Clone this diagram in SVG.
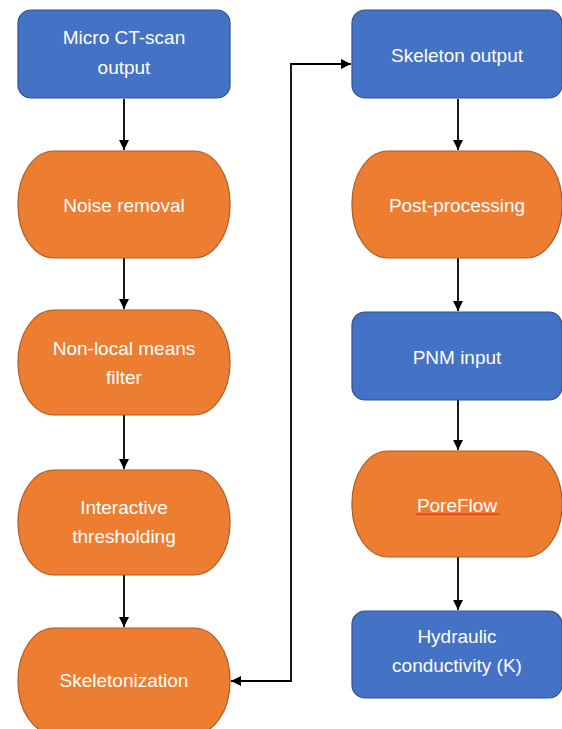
<svg xmlns="http://www.w3.org/2000/svg" width="562" height="729" viewBox="0 0 562 729">
<style>
.blue{fill:#4472C4;stroke:#2F528F;stroke-width:1.2}
.orange{fill:#ED7D31;stroke:#AE5A21;stroke-width:1.2}
text{font-family:"Liberation Sans",Arial,sans-serif;font-size:19px;fill:#FFFFFF;text-anchor:middle;dominant-baseline:central}
.conn{fill:none;stroke:#000000;stroke-width:1.8}
</style>
<defs>
<marker id="ah" viewBox="0 0 10 10" refX="10" refY="5" markerWidth="10" markerHeight="10" markerUnits="userSpaceOnUse" orient="auto-start-reverse">
<path d="M0,0 L10,5 L0,10 Z" fill="#000000"/>
</marker>
</defs>
<rect width="562" height="729" fill="#FFFFFF"/>
<g id="connectors">
<line class="conn" x1="124" y1="99" x2="124" y2="150" marker-end="url(#ah)"/>
<line class="conn" x1="124" y1="258" x2="124" y2="309" marker-end="url(#ah)"/>
<line class="conn" x1="124" y1="415" x2="124" y2="469" marker-end="url(#ah)"/>
<line class="conn" x1="124" y1="575" x2="124" y2="627" marker-end="url(#ah)"/>
<path class="conn" d="M231,681 L291,681 L291,64 L351,64" marker-start="url(#ah)" marker-end="url(#ah)"/>
<line class="conn" x1="458" y1="99" x2="458" y2="150" marker-end="url(#ah)"/>
<line class="conn" x1="458" y1="258" x2="458" y2="311" marker-end="url(#ah)"/>
<line class="conn" x1="458" y1="400" x2="458" y2="450" marker-end="url(#ah)"/>
<line class="conn" x1="458" y1="557" x2="458" y2="610" marker-end="url(#ah)"/>
</g>
<g id="micro-ct">
<rect class="blue" x="18" y="10" width="212" height="88" rx="13" ry="13"/>
<text x="124" y="37">Micro CT-scan</text>
<text x="124" y="67">output</text>
</g>
<g id="noise-removal">
<rect class="orange" x="18" y="151" width="212" height="107" rx="36" ry="52"/>
<text x="124" y="205">Noise removal</text>
</g>
<g id="non-local-means">
<rect class="orange" x="18" y="310" width="212" height="105" rx="36" ry="52"/>
<text x="124" y="348">Non-local means</text>
<text x="124" y="377">filter</text>
</g>
<g id="interactive-thresholding">
<rect class="orange" x="18" y="470" width="212" height="105" rx="36" ry="52"/>
<text x="124" y="507">Interactive</text>
<text x="124" y="536">thresholding</text>
</g>
<g id="skeletonization">
<rect class="orange" x="18" y="628" width="212" height="106" rx="36" ry="52"/>
<text x="124" y="680">Skeletonization</text>
</g>
<g id="skeleton-output">
<rect class="blue" x="352" y="10" width="210" height="88" rx="13" ry="13"/>
<text x="457" y="55">Skeleton output</text>
</g>
<g id="post-processing">
<rect class="orange" x="352" y="151" width="210" height="107" rx="36" ry="52"/>
<text x="457" y="205">Post-processing</text>
</g>
<g id="pnm-input">
<rect class="blue" x="352" y="312" width="210" height="88" rx="13" ry="13"/>
<text x="457" y="357">PNM input</text>
</g>
<g id="poreflow">
<rect class="orange" x="352" y="451" width="210" height="106" rx="36" ry="52"/>
<text x="457" y="505">PoreFlow</text>
<path d="M416,515 l2,-1.5 l2,1.5 l2,-1.5 l2,1.5 l2,-1.5 l2,1.5 l2,-1.5 l2,1.5 l2,-1.5 l2,1.5 l2,-1.5 l2,1.5 l2,-1.5 l2,1.5 l2,-1.5 l2,1.5 l2,-1.5 l2,1.5 l2,-1.5 l2,1.5 l2,-1.5 l2,1.5 l2,-1.5 l2,1.5 l2,-1.5 l2,1.5 l2,-1.5 l2,1.5 l2,-1.5 l2,1.5 l2,-1.5 l2,1.5 l2,-1.5 l2,1.5 l2,-1.5 l2,1.5 l2,-1.5 l2,1.5 l2,-1.5 l2,1.5 l2,-1.5 l2,1.5" fill="none" stroke="#E02020" stroke-width="1"/>
</g>
<g id="hydraulic-conductivity">
<rect class="blue" x="352" y="611" width="210" height="87" rx="13" ry="13"/>
<text x="457" y="636">Hydraulic</text>
<text x="457" y="665">conductivity (K)</text>
</g>
</svg>
